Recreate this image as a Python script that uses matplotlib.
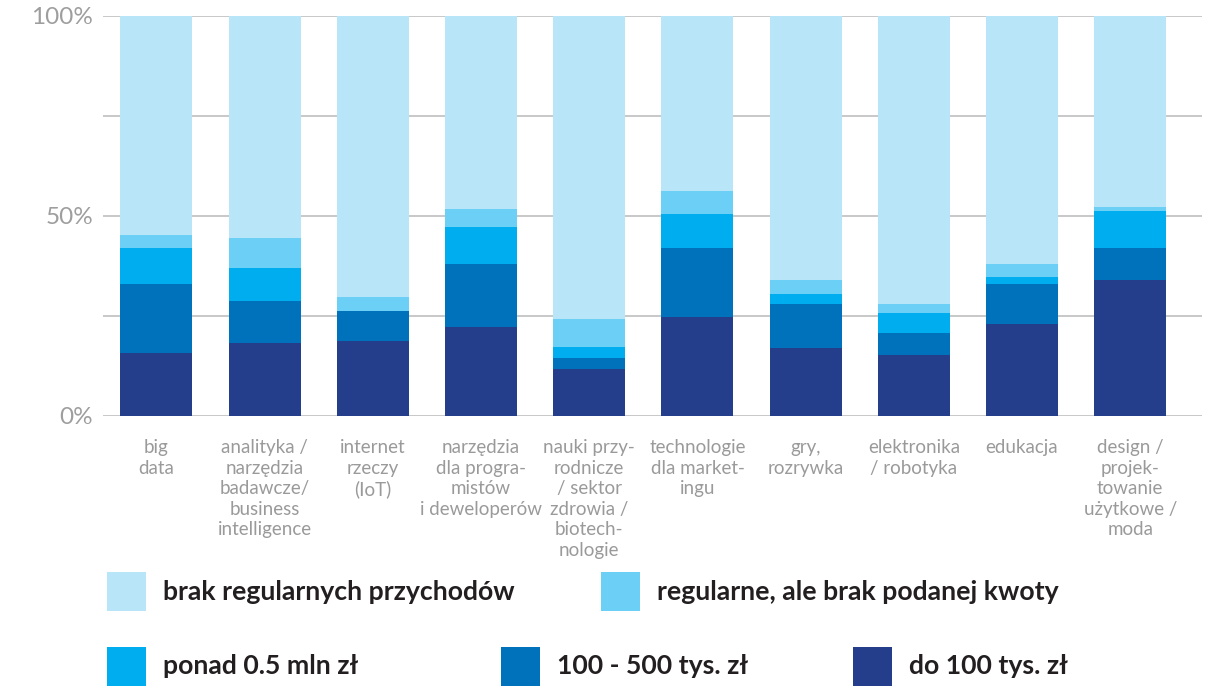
"""Revenue structure of startups by sector: 100% stacked bar chart."""

import matplotlib.pyplot as plt
import numpy as np
from matplotlib.patches import Rectangle

plt.rcParams["font.family"] = ["Lato", "DejaVu Sans"]

SECTORS = [
    "big\ndata",
    "analityka /\nnarzędzia\nbadawcze/\nbusiness\nintelligence",
    "internet\nrzeczy\n(IoT)",
    "narzędzia\ndla progra-\nmistów\ni deweloperów",
    "nauki przy-\nrodnicze\n/ sektor\nzdrowia /\nbiotech-\nnologie",
    "technologie\ndla market-\ningu",
    "gry,\nrozrywka",
    "elektronika\n/ robotyka",
    "edukacja",
    "design /\nprojek-\ntowanie\nużytkowe /\nmoda",
]

# shares in % (bottom to top of each bar)
do_100k = [15.7, 18.2, 18.7, 22.1, 11.7, 24.6, 16.9, 15.2, 22.9, 33.9]
k100_500 = [17.2, 10.5, 7.5, 15.8, 2.7, 17.3, 11.0, 5.5, 10.0, 8.0]
ponad_05mln = [9.0, 8.3, 0.0, 9.2, 2.8, 8.5, 2.5, 5.0, 1.7, 9.2]
regularne_bez_kwoty = [3.2, 7.5, 3.5, 4.5, 7.0, 5.7, 3.5, 2.3, 3.3, 1.0]
brak_regularnych = [54.9, 55.6, 70.4, 48.4, 75.9, 43.9, 66.1, 72.1, 62.1, 47.9]

SERIES_LABELS = [
    "do 100 tys. zł",
    "100 - 500 tys. zł",
    "ponad 0.5 mln zł",
    "regularne, ale brak podanej kwoty",
    "brak regularnych przychodów",
]
SERIES_COLORS = ["#243E8C", "#0072BC", "#00AEEF", "#6CCFF6", "#B9E5F8"]

YTICKS = [0, 25, 50, 75, 100]
YTICK_LABELS = ["0%", "", "50%", "", "100%"]

W, H = 1216, 686
fig = plt.figure(figsize=(W / 100, H / 100), dpi=100)
ax = fig.add_axes([103 / W, 1 - 415.5 / H, 1099 / W, 400 / H])

series = [do_100k, k100_500, ponad_05mln, regularne_bez_kwoty, brak_regularnych]
x = np.arange(len(SECTORS))
bottom = np.zeros(len(SECTORS))
for vals, color, label in zip(series, SERIES_COLORS, SERIES_LABELS):
    vals = np.array(vals)
    ax.bar(x, vals, bottom=bottom, width=0.665, color=color, label=label,
           linewidth=0, zorder=3)
    bottom += vals

ax.set_xlim(-0.494, 9.663)
ax.set_ylim(0, 100)
ax.set_yticks(YTICKS)
ax.set_yticklabels(YTICK_LABELS, fontsize=17.5, color="#9e9e9e")
ax.set_xticks(x)
ax.set_xticklabels(SECTORS, fontsize=13.5, color="#9a9a9a", linespacing=1.25,
                   va="top", multialignment="center")
ax.tick_params(axis="both", length=0)
ax.tick_params(axis="y", pad=7)
ax.tick_params(axis="x", pad=17)
ax.grid(axis="y", color="#c4c4c4", linewidth=1.3, zorder=0)
for side in ax.spines.values():
    side.set_visible(False)

# legend: two rows of colour swatches with bold captions
legend_rows = [
    [(107, 572, 4), (601, 572, 3)],
    [(107, 647, 2), (501, 647, 1), (853, 647, 0)],
]
for row in legend_rows:
    for px, py, idx in row:
        fig.add_artist(Rectangle((px / W, 1 - (py + 39) / H), 39 / W, 39 / H,
                                 transform=fig.transFigure,
                                 color=SERIES_COLORS[idx], linewidth=0))
        fig.text((px + 56) / W, 1 - (py + 19.5) / H, SERIES_LABELS[idx],
                 fontsize=19.2, fontweight="bold", color="#231F20",
                 va="center", ha="left")

fig.savefig("out.png", dpi=100)
